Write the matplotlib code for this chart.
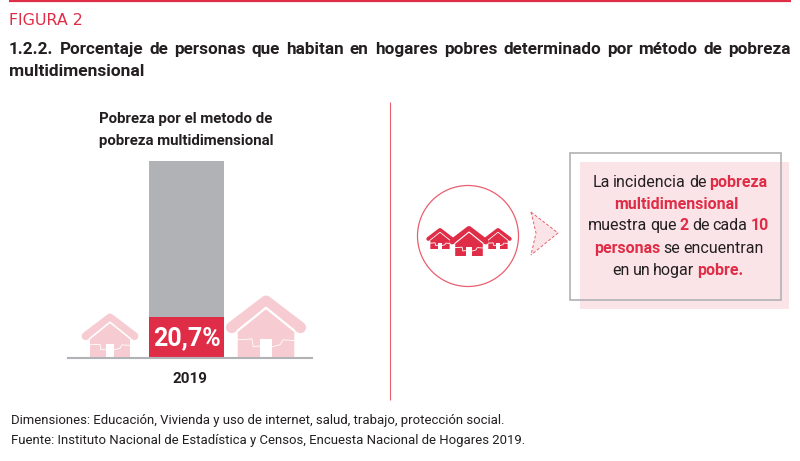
import matplotlib
matplotlib.use("Agg")
import matplotlib.pyplot as plt
from matplotlib.patches import Polygon, Circle, Rectangle
from matplotlib.lines import Line2D
from matplotlib.transforms import ScaledTranslation

years = ["2019"]
poor_pct = [20.7]
total_pct = [100.0]
value_labels = ["20,7%"]

RED = "#e02d47"
DARK = "#231f20"
GREY = "#b1b2b5"
PINK = "#f6ccd2"
LIGHT = "#fbe4e7"
plt.rcParams["font.family"] = ["Roboto", "DejaVu Sans"]

W, H = 800, 461
fig = plt.figure(figsize=(W / 100, H / 100), dpi=100)

ov = fig.add_axes([0, 0, 1, 1], zorder=1)
ov.set_xlim(0, W)
ov.set_ylim(H, 0)
ov.axis("off")

ax = fig.add_axes([68 / W, 1 - 358 / H, 244 / W, 197 / H], zorder=2)
ax.patch.set_alpha(0)
ax.set_xlim(-118.5 / 75, 125.5 / 75)
ax.set_ylim(0, 100)
ax.bar(range(len(years)), total_pct, width=1, color=GREY)
ax.bar(range(len(years)), poor_pct, width=1, color=RED)
for i, (p, lab) in enumerate(zip(poor_pct, value_labels)):
    ax.text(i, p / 2 - 0.3, lab, color="white", ha="center", va="center",
            fontsize=18, fontweight="bold")
ax.set_xticks(range(len(years)), years)
ax.tick_params(axis="x", length=0, pad=10, labelsize=11, colors=DARK)
for l in ax.get_xticklabels():
    l.set_fontweight("bold")
    l.set_transform(l.get_transform() + ScaledTranslation(3 / 100, 0, fig.dpi_scale_trans))
ax.set_yticks([])
for s in ["top", "left", "right"]:
    ax.spines[s].set_visible(False)
ax.spines["bottom"].set_color(GREY)
ax.spines["bottom"].set_linewidth(1.5)


def line(x0, y0, x1, y1, c, lw):
    ov.add_line(Line2D([x0, x1], [y0, y1], color=c, lw=lw, solid_capstyle="butt"))


line(9, 1, 791, 1, RED, 1.6)
line(390, 102, 390, 400, "#e8606f", 0.8)


def house(cx, base, s, color, gap="white", z=3):
    """cx centre, base bottom y, s half width of the roof."""
    bw = s * 0.69
    ov.add_patch(Polygon([(cx - bw, base), (cx - bw, base - s * 0.66), (cx, base - s * 1.2),
                          (cx + bw, base - s * 0.66), (cx + bw, base)],
                         fc=color, ec="none", zorder=z))
    ov.add_line(Line2D([cx - s * 0.84, cx, cx + s * 0.84],
                       [base - s * 0.72, base - s * 1.36, base - s * 0.72],
                       color=color, lw=s * 0.2, solid_capstyle="round",
                       solid_joinstyle="round", zorder=z))
    ov.add_line(Line2D([cx - s * 0.68, cx, cx + s * 0.68],
                       [base - s * 0.65, base - s * 1.2, base - s * 0.65],
                       color=gap, lw=s * 0.04, zorder=z + 0.1))
    ov.add_patch(Rectangle((cx - s * 0.15, base - s * 0.45), s * 0.3, s * 0.45,
                           fc=gap, ec="none", zorder=z + 0.2))
    ov.add_line(Line2D([cx - bw, cx - bw * 0.5, cx - bw * 0.45, cx - s * 0.15],
                       [base - s * 0.42, base - s * 0.44, base - s * 0.25, base - s * 0.27],
                       color=gap, lw=0.6, zorder=z + 0.1))
    ov.add_line(Line2D([cx + s * 0.15, cx + bw * 0.5, cx + bw * 0.6, cx + bw],
                       [base - s * 0.25, base - s * 0.3, base - s * 0.42, base - s * 0.4],
                       color=gap, lw=0.6, zorder=z + 0.1))


house(110, 357, 29, PINK)
house(266, 357, 41, PINK)

ov.add_patch(Circle((468, 236), 50.5, fc="white", ec="#e8606f", lw=0.9, zorder=3))
house(440, 249, 14, RED, z=4)
house(498, 249, 14, RED, z=4)
house(469, 256, 20, RED, z=5)

ov.add_patch(Polygon([(531, 212), (558, 233), (531, 255), (536, 233)], fc=LIGHT, ec="none", zorder=3))
ov.add_line(Line2D([531, 558, 531], [212, 233, 255], color="#e8606f", lw=0.7, ls=(0, (3, 2)), zorder=4))
ov.add_line(Line2D([531, 536, 531], [212, 233, 255], color="#e8606f", lw=0.7, ls=(0, (3, 2)), zorder=4))

ov.add_patch(Rectangle((580, 162), 209, 147, fc=LIGHT, ec="none", zorder=2))
ov.add_patch(Rectangle((570, 153), 211, 147, fc="none", ec=GREY, lw=1.2, zorder=3))

renderer = fig.canvas.get_renderer()


def runs(y, parts, fs, x0=None, x1=None, cx=None, space=3.0):
    """Place text runs word by word; justify between x0, x1 or centre on cx."""
    words = []
    total = 0
    for txt, bold, col in parts:
        for w in txt.split(" "):
            t = ov.text(0, y, w, fontsize=fs, fontweight="bold" if bold else "normal",
                        color=col, va="baseline", ha="left", zorder=6)
            wd = t.get_window_extent(renderer).width
            words.append((t, wd))
            total += wd
    n = max(len(words) - 1, 1)
    if x1 is not None:
        gap = (x1 - x0 - total) / n
        x = x0
    else:
        gap = space
        x = cx - (total + gap * n) / 2
    for t, wd in words:
        t.set_x(x)
        x += wd + gap


ov.text(9, 25, "FIGURA 2", color=RED, fontsize=11.4, va="baseline", ha="left", family="DejaVu Sans")
runs(54, [("1.2.2. Porcentaje de personas que habitan en hogares pobres determinado por método de pobreza", True, DARK)],
     12.3, x0=9, x1=791)
ov.text(9, 76, "multidimensional", color=DARK, fontsize=12.5, fontweight="bold", va="baseline")

ov.text(186, 123, "Pobreza por el metodo de", color=DARK, fontsize=10.8, fontweight="bold", ha="center", va="baseline")
ov.text(186, 145, "pobreza multidimensional", color=DARK, fontsize=10.8, fontweight="bold", ha="center", va="baseline")

fs = 11.5
runs(187, [("La incidencia de", False, DARK), ("pobreza", True, RED)], fs, cx=680)
runs(209, [("multidimensional", True, RED)], fs, cx=678)
runs(230, [("muestra que", False, DARK), ("2", True, RED), ("de cada", False, DARK), ("10", True, RED)], fs, cx=678.5)
runs(253, [("personas", True, RED), ("se encuentran", False, DARK)], fs, cx=678.5)
runs(275, [("en un hogar", False, DARK), ("pobre.", True, RED)], fs, cx=678)

ov.text(11, 424, "Dimensiones: Educación, Vivienda y uso de internet, salud, trabajo, protección social.",
        color=DARK, fontsize=9.45, va="baseline")
ov.text(11, 444, "Fuente: Instituto Nacional de Estadística y Censos, Encuesta Nacional de Hogares 2019.",
        color=DARK, fontsize=9.45, va="baseline")

fig.savefig("out.png", dpi=100)
